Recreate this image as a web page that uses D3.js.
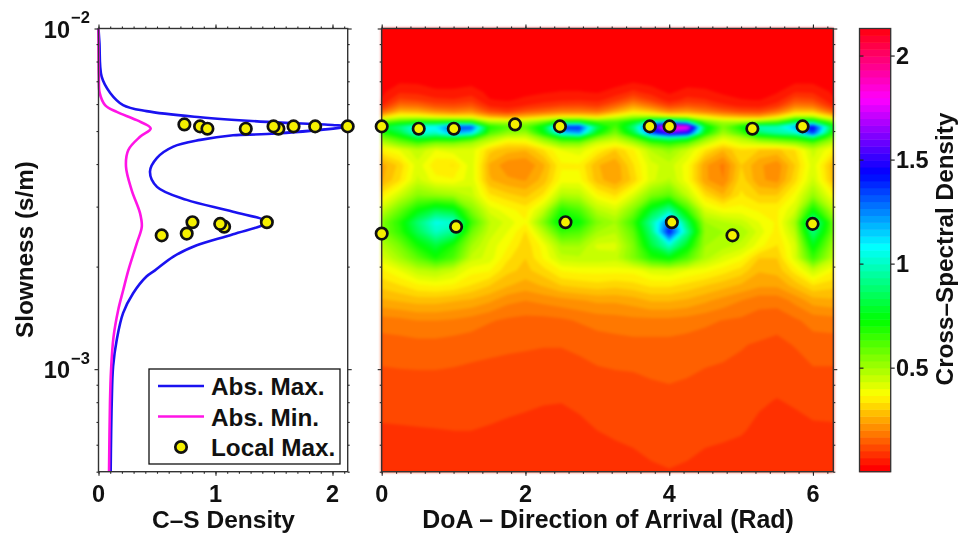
<!DOCTYPE html>
<html>
<head>
<meta charset="utf-8">
<script src="https://cdn.jsdelivr.net/npm/d3@7"></script>
<style>
    html, body { margin: 0; padding: 0; background: #fff; }
    svg { display: block; filter: blur(0.6px); }
    text { font-family: "Liberation Sans", sans-serif; font-weight: bold; fill: #111; }
</style>
</head>
<body>
<div id="chart"></div>
<script>
// Direction of arrival (rad), one per grid column
const doaGrid = [0, 0.25, 0.5, 0.75, 1, 1.25, 1.5, 1.75, 2, 2.25, 2.5, 2.75, 3, 3.25, 3.5, 3.75, 4, 4.25, 4.5, 4.75, 5, 5.25, 5.5, 5.75, 6, 6.283];

// Slowness (s/m), one per grid row
const slownessGrid = [0.01, 7.55e-3, 6.96e-3, 6.51e-3, 6.17e-3, 5.92e-3, 5.69e-3, 5.50e-3, 5.31e-3, 5.14e-3, 4.93e-3, 4.77e-3, 4.61e-3, 4.40e-3, 3.97e-3, 3.59e-3, 3.24e-3, 2.93e-3, 2.70e-3, 2.53e-3, 2.30e-3, 2.12e-3, 1.95e-3, 1.76e-3, 1.59e-3, 1.39e-3, 1.18e-3, 9.93e-4, 8.11e-4, 6.62e-4, 5e-4];

// Cross-spectral density, row by row
const densityRows = [
    [.005,.005,.005,.005,.005,.005,.005,.005,.005,.005,.005,.005,.005,.005,.005,.005,.005,.005,.005,.005,.005,.005,.005,.005,.005,.005],
    [.01,.015,.015,.01,.01,.01,.01,.008,.008,.01,.01,.01,.01,.01,.015,.012,.008,.01,.01,.008,.008,.008,.01,.014,.014,.01],
    [.018,.03,.028,.02,.02,.022,.015,.012,.014,.016,.018,.018,.016,.02,.032,.022,.014,.02,.02,.014,.012,.012,.016,.028,.028,.018],
    [.026,.06,.055,.04,.04,.05,.024,.02,.025,.03,.035,.035,.03,.045,.075,.05,.028,.045,.04,.028,.022,.02,.03,.065,.06,.028],
    [.035,.11,.1,.075,.07,.085,.035,.03,.04,.05,.06,.065,.055,.09,.15,.1,.05,.08,.07,.045,.035,.032,.05,.12,.11,.036],
    [.07,.18,.17,.13,.12,.14,.065,.05,.07,.09,.11,.115,.1,.16,.24,.18,.11,.14,.12,.08,.06,.055,.09,.19,.18,.07],
    [.16,.28,.27,.22,.2,.22,.13,.1,.14,.17,.2,.2,.18,.26,.34,.3,.22,.24,.2,.16,.13,.12,.18,.3,.3,.16],
    [.32,.42,.42,.38,.36,.36,.27,.24,.28,.32,.36,.36,.34,.42,.5,.5,.45,.42,.36,.3,.27,.26,.34,.48,.48,.32],
    [.58,.66,.72,.72,.75,.72,.5,.48,.5,.58,.78,.8,.64,.64,.75,1.05,1.2,1.05,.6,.5,.5,.55,.62,.85,.9,.58],
    [.78,.9,1.1,1.1,1.35,1.35,.7,.62,.6,.78,1.4,1.4,.85,.62,.9,1.5,2,1.85,.8,.56,.72,1,1,1.2,1.48,.78],
    [.66,.8,1.05,1,1.2,1.1,.62,.52,.5,.72,1.1,1.2,.72,.55,.8,1.3,1.55,1.45,.72,.5,.62,.85,.95,1,1.35,.66],
    [.55,.66,.82,.75,.78,.68,.5,.42,.42,.55,.72,.75,.55,.47,.6,.85,.95,.85,.55,.42,.48,.6,.65,.7,.85,.55],
    [.46,.55,.62,.55,.55,.5,.42,.34,.35,.45,.55,.55,.43,.4,.48,.62,.68,.6,.45,.36,.42,.45,.48,.52,.6,.46],
    [.36,.4,.46,.4,.42,.42,.31,.28,.27,.33,.4,.42,.36,.3,.36,.47,.52,.44,.34,.27,.33,.3,.29,.33,.45,.36],
    [.25,.31,.42,.34,.33,.42,.26,.21,.2,.26,.36,.36,.27,.24,.33,.42,.45,.38,.24,.19,.3,.24,.21,.3,.42,.27],
    [.26,.33,.44,.38,.37,.42,.27,.24,.23,.28,.38,.38,.28,.24,.31,.42,.47,.38,.24,.2,.32,.24,.22,.32,.44,.28],
    [.35,.44,.54,.52,.5,.45,.34,.31,.29,.34,.48,.47,.37,.33,.42,.55,.6,.46,.33,.27,.34,.3,.3,.38,.52,.37],
    [.45,.58,.72,.82,.78,.55,.42,.38,.35,.45,.68,.62,.47,.43,.55,.78,.95,.65,.42,.38,.38,.36,.36,.43,.72,.47],
    [.55,.68,.88,1.05,1.02,.65,.47,.42,.37,.55,.78,.72,.55,.5,.65,.95,1.3,.85,.5,.47,.45,.4,.36,.5,.98,.58],
    [.55,.66,.84,1,.92,.58,.45,.4,.33,.47,.65,.62,.5,.47,.6,.9,1.42,.95,.52,.5,.5,.42,.35,.47,.9,.57],
    [.47,.56,.7,.8,.68,.5,.42,.37,.31,.38,.5,.5,.42,.42,.55,.8,1,.75,.5,.48,.45,.38,.33,.42,.75,.5],
    [.42,.5,.6,.7,.62,.45,.42,.34,.3,.37,.45,.46,.46,.45,.55,.68,.73,.62,.48,.42,.38,.3,.3,.42,.65,.46],
    [.36,.4,.46,.48,.44,.38,.37,.31,.29,.32,.37,.38,.38,.38,.38,.42,.43,.4,.38,.35,.32,.27,.28,.35,.45,.37],
    [.31,.33,.36,.37,.36,.33,.3,.27,.25,.27,.3,.31,.32,.31,.32,.34,.34,.32,.3,.28,.26,.24,.24,.28,.33,.31],
    [.26,.27,.28,.28,.27,.26,.24,.21,.2,.21,.22,.23,.24,.24,.25,.27,.27,.26,.24,.22,.2,.18,.18,.21,.25,.26],
    [.185,.19,.2,.2,.195,.185,.17,.16,.155,.155,.16,.17,.18,.185,.19,.19,.19,.185,.175,.165,.16,.15,.145,.16,.18,.185],
    [.15,.152,.155,.155,.15,.145,.14,.138,.137,.135,.135,.14,.148,.152,.155,.155,.155,.15,.145,.14,.135,.13,.125,.135,.15,.15],
    [.13,.132,.133,.133,.131,.128,.127,.125,.122,.12,.12,.124,.13,.133,.134,.138,.14,.137,.132,.13,.127,.118,.113,.12,.13,.13],
    [.112,.113,.114,.115,.115,.115,.113,.108,.105,.102,.101,.105,.11,.116,.12,.122,.125,.122,.117,.112,.11,.103,.099,.103,.11,.11],
    [.096,.097,.098,.099,.1,.1,.097,.094,.092,.09,.09,.094,.1,.103,.105,.108,.11,.108,.105,.104,.102,.095,.09,.092,.095,.096],
    [.08,.08,.082,.084,.086,.087,.085,.082,.08,.078,.077,.08,.085,.09,.093,.097,.099,.097,.093,.09,.086,.081,.078,.078,.079,.08]
];

// Absolute max curve
const maxSlowness = [0.01, 9.07e-3, 7.22e-3, 6.47e-3, 5.96e-3, 5.72e-3, 5.49e-3, 5.32e-3, 5.21e-3, 5.16e-3, 4.90e-3, 4.86e-3, 4.71e-3, 4.50e-3, 4.17e-3, 3.80e-3, 3.43e-3, 3.14e-3, 2.90e-3, 2.70e-3, 2.49e-3, 2.31e-3, 2.14e-3, 1.95e-3, 1.87e-3, 1.67e-3, 1.46e-3, 1.22e-3, 1.02e-3, 7.94e-4, 5e-4];
const maxDensity = [0, 0.008, 0.027, 0.1, 0.21, 0.41, 0.87, 1.44, 2.0, 2.13, 1.44, 1.15, 0.87, 0.64, 0.5, 0.44, 0.5, 0.754, 1.15, 1.439, 1.15, 0.84, 0.64, 0.483, 0.41, 0.296, 0.21, 0.156, 0.125, 0.113, 0.104];

// Absolute min curve
const minSlowness = [0.01, 7.22e-3, 6.47e-3, 5.96e-3, 5.69e-3, 5.38e-3, 5.09e-3, 4.81e-3, 4.40e-3, 3.93e-3, 3.35e-3, 2.87e-3, 2.62e-3, 2.34e-3, 1.95e-3, 1.71e-3, 1.49e-3, 1.24e-3, 9.9e-4, 7.94e-4, 5e-4];
const minDensity = [0, 0.003, 0.01, 0.056, 0.156, 0.327, 0.446, 0.355, 0.255, 0.235, 0.284, 0.355, 0.37, 0.327, 0.255, 0.212, 0.168, 0.128, 0.107, 0.098, 0.09];

// Local maxima: direction, slowness and density of each
const peakDoa = [1.855, 0, 0.515, 5.157, 1.003, 2.48, 5.856, 3.73, 4.005, 2.557, 4.037, 1.035, 5.995, 0, 4.88];
const peakSlowness = [5.23e-3, 5.16e-3, 5.08e-3, 5.08e-3, 5.08e-3, 5.16e-3, 5.16e-3, 5.16e-3, 5.16e-3, 2.70e-3, 2.70e-3, 2.62e-3, 2.67e-3, 2.50e-3, 2.47e-3];
const peakDensity = [0.734, 0.868, 1.259, 0.931, 1.538, 1.496, 1.667, 1.852, 2.13, 0.803, 1.439, 1.074, 1.04, 0.754, 0.54];

const densityTicks = [0, 1, 2];
const doaTicks = [0, 2, 4, 6];
const colorTicks = [0.5, 1, 1.5, 2];
const colorTickLabels = ["0.5", "1", "1.5", "2"];
const legendLabels = ["Abs. Max.", "Abs. Min.", "Local Max."];

const densityMax = 2.13;
const levelCount = 64;
const plotTop = 28.5, plotBottom = 471.7;
const tickFont = 23.5, titleFont = 24.5;

const svg = d3.select("#chart").append("svg")
    .attr("width", 961)
    .attr("height", 533);

const y = d3.scaleLog().domain([5e-4, 1e-2]).range([plotBottom, plotTop]);
const xDensity = d3.scaleLinear().domain([0, densityMax]).range([98.5, 347.7]);
const xDoa = d3.scaleLinear().domain([0, 2 * Math.PI]).range([381.7, 833.3]);
const yColor = d3.scaleLinear().domain([0, densityMax]).range([plotBottom, plotTop]);

function levelColor(i) {
    return d3.hsl(i / levelCount * 360, 1, 0.5).formatHex();
}

// Map: one filled contour for each colour level, painted from low to high
const levels = d3.range(levelCount).map(i => i * densityMax / levelCount);
const contours = d3.contours()
    .size([doaGrid.length, slownessGrid.length])
    .thresholds(levels)(densityRows.flat());

// d3.contours puts grid point i at i + 0.5, so convert back through the grid arrays
const colToDoa = d3.scaleLinear().domain(doaGrid.map((d, i) => i + 0.5)).range(doaGrid).clamp(true);
const rowToLog = d3.scaleLinear().domain(slownessGrid.map((d, i) => i + 0.5)).range(slownessGrid.map(Math.log10)).clamp(true);
const gridPath = d3.geoPath(d3.geoTransform({
    point: function(cx, cy) {
        this.stream.point(xDoa(colToDoa(cx)), y(Math.pow(10, rowToLog(cy))));
    }
}));

// Sharp copy underneath so the soft copy on top doesn't fade out at the edges
function drawMap(softness) {
    svg.append("g")
        .style("filter", softness ? `blur(${softness}px)` : null)
        .selectAll("path")
        .data(contours)
        .join("path")
        .attr("d", gridPath)
        .attr("fill", (d, i) => levelColor(i));
}
drawMap(0);
drawMap(1.6);

// Frame with ticks on all four sides, all pointing out
function drawFrame(xScale, majorX, minorX) {
    const g = svg.append("g");
    const left = xScale.range()[0], right = xScale.range()[1];

    function addAxis(axis, tx, ty) {
        const a = g.append("g").attr("transform", `translate(${tx},${ty})`).call(axis);
        a.select(".domain").remove();
        a.selectAll("line").attr("stroke", "#222").attr("stroke-width", 1.1);
        a.selectAll("text").remove();
    }

    const logMinor = d3.range(2, 10).map(d => d * 1e-3).concat([5e-4, 6e-4, 7e-4, 8e-4, 9e-4]);
    const logMajor = [1e-3, 1e-2];

    addAxis(d3.axisBottom(xScale).tickValues(minorX).tickSize(2), 0, plotBottom);
    addAxis(d3.axisBottom(xScale).tickValues(majorX).tickSize(4), 0, plotBottom);
    addAxis(d3.axisTop(xScale).tickValues(minorX).tickSize(2), 0, plotTop);
    addAxis(d3.axisTop(xScale).tickValues(majorX).tickSize(4), 0, plotTop);
    addAxis(d3.axisLeft(y).tickValues(logMinor).tickSize(2), left, 0);
    addAxis(d3.axisLeft(y).tickValues(logMajor).tickSize(4), left, 0);
    addAxis(d3.axisRight(y).tickValues(logMinor).tickSize(2), right, 0);
    addAxis(d3.axisRight(y).tickValues(logMajor).tickSize(4), right, 0);

    g.append("rect")
        .attr("x", left).attr("y", plotTop)
        .attr("width", right - left).attr("height", plotBottom - plotTop)
        .attr("fill", "none").attr("stroke", "#333").attr("stroke-width", 1.4);

    svg.append("g").selectAll("text")
        .data(majorX)
        .join("text")
        .attr("x", d => xScale(d))
        .attr("y", 502)
        .attr("text-anchor", "middle")
        .attr("font-size", tickFont)
        .text(d => d);
}

// Left panel curves
const line = d3.line()
    .x(d => xDensity(d[0]))
    .y(d => y(d[1]))
    .curve(d3.curveCatmullRom.alpha(0.5));

svg.append("path")
    .datum(maxDensity.map((d, i) => [d, maxSlowness[i]]))
    .attr("d", line)
    .attr("fill", "none").attr("stroke", "#1a12f0").attr("stroke-width", 2.6);

svg.append("path")
    .datum(minDensity.map((d, i) => [d, minSlowness[i]]))
    .attr("d", line)
    .attr("fill", "none").attr("stroke", "#ff14e6").attr("stroke-width", 2.6);

drawFrame(xDensity, densityTicks, d3.range(0, 2.15, 0.1));
drawFrame(xDoa, doaTicks, d3.range(0, 6.3, 0.2));

// Log tick labels
[[1e-2, "\u22122"], [1e-3, "\u22123"]].forEach(t => {
    const g = svg.append("g").attr("transform", `translate(0,${y(t[0])})`);
    g.append("text").attr("x", 70).attr("y", 9).attr("text-anchor", "end").attr("font-size", tickFont).text("10");
    g.append("text").attr("x", 71).attr("y", -5.5).attr("font-size", 16.5).text(t[1]);
});

// Local max markers in both panels
function drawPeaks(points) {
    svg.append("g").selectAll("circle")
        .data(points)
        .join("circle")
        .attr("cx", d => d.x)
        .attr("cy", d => d.y)
        .attr("r", 5.7)
        .attr("fill", "#f5f000")
        .attr("stroke", "#111")
        .attr("stroke-width", 2.7);
}
drawPeaks(peakDensity.map((d, i) => ({x: xDensity(d), y: y(peakSlowness[i])})));
drawPeaks(peakDoa.map((d, i) => ({x: xDoa(d), y: y(peakSlowness[i])})));

// Legend
const legend = svg.append("g");
legend.append("rect")
    .attr("x", 149).attr("y", 369).attr("width", 191).attr("height", 95)
    .attr("fill", "#fff").attr("stroke", "#111").attr("stroke-width", 1.3);
legend.append("line").attr("x1", 158).attr("x2", 204).attr("y1", 386).attr("y2", 386)
    .attr("stroke", "#1a12f0").attr("stroke-width", 2.6);
legend.append("line").attr("x1", 158).attr("x2", 204).attr("y1", 416.5).attr("y2", 416.5)
    .attr("stroke", "#ff14e6").attr("stroke-width", 2.6);
legend.append("circle").attr("cx", 181).attr("cy", 447).attr("r", 5.7)
    .attr("fill", "#f5f000").attr("stroke", "#111").attr("stroke-width", 2.7);
legend.selectAll("text")
    .data(legendLabels)
    .join("text")
    .attr("x", 211)
    .attr("y", (d, i) => 395 + i * 30.5)
    .attr("font-size", 24.3)
    .text(d => d);

// Colour bar
svg.append("g").selectAll("rect")
    .data(d3.range(levelCount))
    .join("rect")
    .attr("x", 859.5)
    .attr("y", i => yColor((i + 1) * densityMax / levelCount))
    .attr("width", 31.2)
    .attr("height", (plotBottom - plotTop) / levelCount + 0.5)
    .attr("fill", i => levelColor(i));
svg.append("rect")
    .attr("x", 859.5).attr("y", plotTop).attr("width", 31.2).attr("height", plotBottom - plotTop)
    .attr("fill", "none").attr("stroke", "#333").attr("stroke-width", 1.3);

const colorAxisRight = svg.append("g")
    .attr("transform", "translate(890.7,0)")
    .call(d3.axisRight(yColor).tickValues(colorTicks).tickSize(4).tickFormat(""));
colorAxisRight.select(".domain").remove();
colorAxisRight.selectAll("line").attr("stroke", "#222").attr("stroke-width", 1.2);
const colorAxisLeft = svg.append("g")
    .attr("transform", "translate(863.5,0)")
    .call(d3.axisLeft(yColor).tickValues(colorTicks).tickSize(4).tickFormat(""));
colorAxisLeft.select(".domain").remove();
colorAxisLeft.selectAll("line").attr("stroke", "#222").attr("stroke-width", 1.2);

svg.append("g").selectAll("text")
    .data(colorTicks)
    .join("text")
    .attr("x", 896)
    .attr("y", d => yColor(d) + 8.5)
    .attr("font-size", tickFont)
    .text((d, i) => colorTickLabels[i]);

// Axis titles
svg.append("text").attr("x", 223.5).attr("y", 527.5).attr("text-anchor", "middle")
    .attr("font-size", titleFont).text("C\u2013S Density");
svg.append("text").attr("x", 608).attr("y", 527.5).attr("text-anchor", "middle")
    .attr("font-size", 24.9).text("DoA \u2013 Direction of Arrival (Rad)");
svg.append("text").attr("transform", "translate(33,249.5) rotate(-90)").attr("text-anchor", "middle")
    .attr("font-size", 24.3).text("Slowness (s/m)");
svg.append("text").attr("transform", "translate(952.5,249) rotate(-90)").attr("text-anchor", "middle")
    .attr("font-size", 24.3).text("Cross\u2013Spectral Density");
</script>
</body>
</html>
